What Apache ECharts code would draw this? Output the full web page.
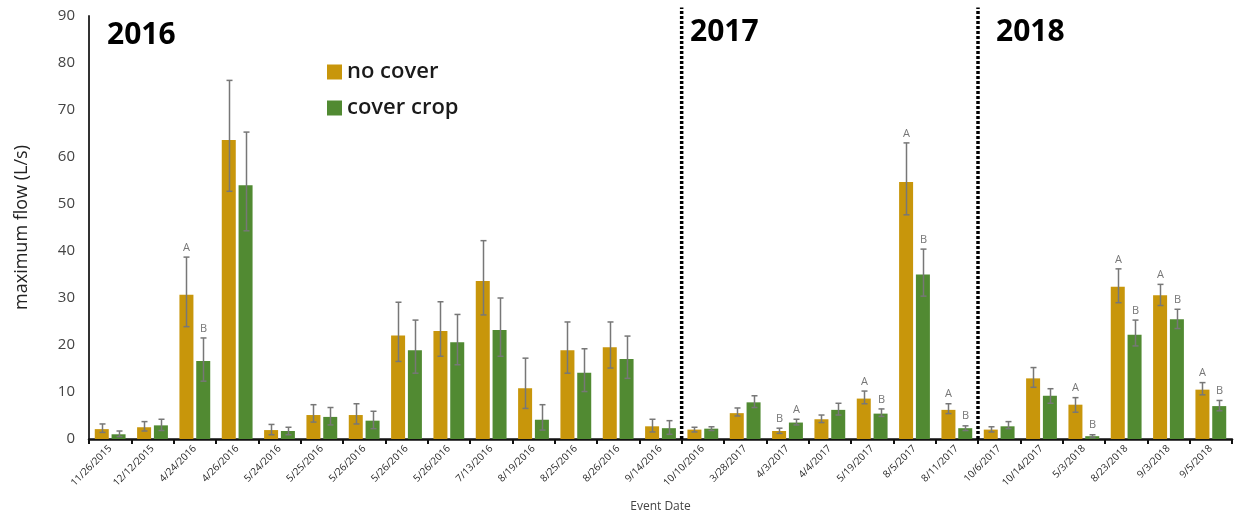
<!DOCTYPE html>
<html>
<head>
<meta charset="utf-8">
<script src="https://cdn.jsdelivr.net/npm/echarts@6/dist/echarts.min.js"></script>
<style>
  html, body { margin: 0; padding: 0; background: #fff; }
  #chart { width: 1239px; height: 518px; }
</style>
</head>
<body>
<div id="chart"></div>
<script>
const dates = ['11/26/2015', '12/12/2015', '4/24/2016', '4/26/2016', '5/24/2016', '5/25/2016', '5/26/2016',
  '5/26/2016', '5/26/2016', '7/13/2016', '8/19/2016', '8/25/2016', '8/26/2016', '9/14/2016',
  '10/10/2016', '3/28/2017', '4/3/2017', '4/4/2017', '5/19/2017', '8/5/2017', '8/11/2017',
  '10/6/2017', '10/14/2017', '5/3/2018', '8/23/2018', '9/3/2018', '9/5/2018'];

const noCover = [2.1, 2.5, 30.7, 63.6, 1.9, 5.1, 5.1, 22.0, 23.0, 33.6, 10.8, 18.9, 19.5, 2.7,
  2.0, 5.5, 1.7, 4.2, 8.6, 54.7, 6.2, 2.0, 12.9, 7.3, 32.4, 30.6, 10.5];
const noCoverHi = [3.2, 3.7, 38.7, 76.3, 3.1, 7.3, 7.5, 29.1, 29.2, 42.2, 17.2, 24.9, 24.9, 4.2,
  2.5, 6.6, 2.3, 5.1, 10.2, 63.0, 7.5, 2.6, 15.2, 8.8, 36.2, 32.9, 12.0];
const noCoverLo = [1.4, 1.7, 23.9, 52.7, 0.9, 3.6, 3.2, 16.5, 17.6, 26.4, 6.5, 14.0, 15.1, 1.5,
  1.5, 4.9, 1.2, 3.5, 7.5, 47.7, 5.4, 1.5, 11.0, 5.7, 29.0, 28.4, 9.4];

const coverCrop = [1.0, 2.9, 16.6, 54.0, 1.7, 4.7, 3.9, 18.9, 20.6, 23.2, 4.1, 14.1, 17.0, 2.3,
  2.2, 7.8, 3.5, 6.2, 5.4, 35.0, 2.3, 2.7, 9.2, 0.6, 22.2, 25.5, 7.0];
const coverCropHi = [1.7, 4.2, 21.5, 65.3, 2.5, 6.7, 5.9, 25.3, 26.5, 30.0, 7.3, 19.2, 21.9, 3.9,
  2.6, 9.2, 4.2, 7.6, 6.4, 40.4, 2.8, 3.7, 10.7, 0.9, 25.3, 27.6, 8.2];
const coverCropLo = [0.5, 1.8, 12.3, 44.3, 0.9, 3.0, 2.2, 14.0, 15.8, 17.6, 1.9, 10.1, 12.9, 1.0,
  1.8, 6.7, 3.0, 5.1, 4.8, 30.4, 1.8, 2.2, 7.6, 0.3, 19.8, 23.5, 6.0];

const noCoverLetters = ['', '', 'A', '', '', '', '', '', '', '', '', '', '', '',
  '', '', 'B', '', 'A', 'A', 'A', '', '', 'A', 'A', 'A', 'A'];
const coverCropLetters = ['', '', 'B', '', '', '', '', '', '', '', '', '', '', '',
  '', '', 'A', '', 'B', 'B', 'B', '', '', 'B', 'B', 'B', 'B'];

const yearLabels = ['2016', '2017', '2018'];
const yearBreaks = [14, 21];

const GOLD = '#C8960B';
const GREEN = '#518A32';
const BAR_W = 14;
const BAR_GAP = 0.2;

const chart = echarts.init(document.getElementById('chart'));

function errorSeries(name, lo, hi, letters, side) {
  return {
    type: 'custom',
    name: name + ' err',
    xAxisIndex: 0,
    yAxisIndex: 0,
    z: 5,
    silent: true,
    data: dates.map((d, i) => [i, lo[i], hi[i]]),
    renderItem: function (params, api) {
      const offset = side * (BAR_W * (1 + BAR_GAP)) / 2;
      const top = api.coord([api.value(0), api.value(2)]);
      const bot = api.coord([api.value(0), api.value(1)]);
      const x = Math.round(top[0] + offset) + 0.5;
      const style = { stroke: '#777', lineWidth: 1.5 };
      const children = [
        { type: 'line', shape: { x1: x, y1: top[1], x2: x, y2: bot[1] }, style: style },
        { type: 'line', shape: { x1: x - 3, y1: top[1], x2: x + 3, y2: top[1] }, style: style },
        { type: 'line', shape: { x1: x - 3, y1: bot[1], x2: x + 3, y2: bot[1] }, style: style }
      ];
      const letter = letters[params.dataIndex];
      if (letter) {
        children.push({
          type: 'text',
          style: {
            text: letter, x: x, y: top[1] - 4,
            textAlign: 'center', textVerticalAlign: 'bottom',
            fill: '#777', font: '11px "Open Sans"'
          }
        });
      }
      return { type: 'group', children: children };
    }
  };
}

// dotted year separators, drawn on a hidden value x axis (0..27 = category edges)
const breakSeries = yearBreaks.map(b => ({
  type: 'line',
  xAxisIndex: 1,
  yAxisIndex: 0,
  silent: true,
  clip: false,
  symbol: 'none',
  z: 6,
  lineStyle: { color: '#000', type: [3, 2], width: 3.5 },
  data: [[b, 0], [b, 91.8]]
}));

const option = {
  backgroundColor: '#fff',
  animation: false,
  textStyle: { fontFamily: '"Open Sans", sans-serif' },
  grid: { left: 89, right: 7, top: 16, bottom: 77 },
  legend: {
    orient: 'vertical',
    left: 322,
    top: 56,
    itemWidth: 15,
    itemHeight: 15,
    itemGap: 14,
    icon: 'rect',
    data: ['no cover', 'cover crop'],
    textStyle: { fontSize: 22, fontWeight: 600, color: '#1a1a1a', fontFamily: '"Open Sans"' }
  },
  xAxis: [
    {
      type: 'category',
      data: dates,
      name: 'Event Date',
      nameLocation: 'middle',
      nameGap: 62,
      nameTextStyle: { fontSize: 12, color: '#444' },
      axisLine: { lineStyle: { color: '#111', width: 2.5 } },
      axisTick: { show: true, length: 5, lineStyle: { color: '#111', width: 2 } },
      axisLabel: { rotate: 45, fontSize: 10, color: '#2a2a2a', margin: 8, interval: 0 }
    },
    { type: 'value', min: 0, max: 27, show: false }
  ],
  yAxis: {
    type: 'value',
    min: 0,
    max: 90,
    interval: 10,
    name: 'maximum flow (L/s)',
    nameLocation: 'middle',
    nameGap: 58,
    nameTextStyle: { fontSize: 18, color: '#222' },
    axisLine: { show: true, lineStyle: { color: '#333', width: 2 } },
    axisTick: { show: false },
    splitLine: { show: false },
    axisLabel: { fontSize: 15, color: '#444', margin: 14 }
  },
  graphic: [
    { type: 'text', left: 107, top: 20, style: { text: yearLabels[0], font: 'bold 30px "Open Sans"', fill: '#000' } },
    { type: 'text', left: 690, top: 17, style: { text: yearLabels[1], font: 'bold 30px "Open Sans"', fill: '#000' } },
    { type: 'text', left: 996, top: 17, style: { text: yearLabels[2], font: 'bold 30px "Open Sans"', fill: '#000' } }
  ],
  series: [
    {
      name: 'no cover',
      type: 'bar',
      data: noCover,
      barWidth: BAR_W,
      barGap: (BAR_GAP * 100) + '%',
      itemStyle: { color: GOLD }
    },
    {
      name: 'cover crop',
      type: 'bar',
      data: coverCrop,
      barWidth: BAR_W,
      barGap: (BAR_GAP * 100) + '%',
      itemStyle: { color: GREEN }
    },
    errorSeries('no cover', noCoverLo, noCoverHi, noCoverLetters, -1),
    errorSeries('cover crop', coverCropLo, coverCropHi, coverCropLetters, 1)
  ].concat(breakSeries)
};

chart.setOption(option);
</script>
</body>
</html>
